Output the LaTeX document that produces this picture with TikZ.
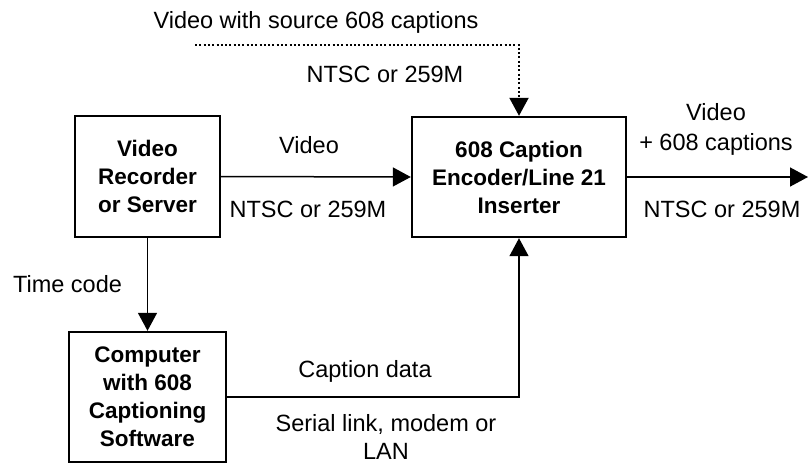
\documentclass[tikz,border=0pt]{standalone}
\usepackage{fontspec}
\setmainfont{Liberation Sans}
\usetikzlibrary{arrows.meta}
\begin{document}
\begin{tikzpicture}[x=1pt,y=-1pt,
  blockbox/.style={draw, line width=2.4pt, inner sep=0pt, align=center,
    font=\fontsize{22.5}{28}\selectfont\bfseries},
  lbl/.style={inner sep=0pt, anchor=base, align=center,
    font=\fontsize{23.5}{28}\selectfont},
  conn/.style={line width=1.5pt, -{Triangle[length=18pt,width=19pt]}},
  dotconn/.style={conn, dash pattern=on 2pt off 2.3pt, line width=2pt}
]
\useasboundingbox (0,0) rectangle (808,464);

% processing blocks
\node[blockbox, minimum width=145pt, minimum height=121pt] (rec) at (147.5,176.5)
  {Video\\Recorder\\or Server};
\node[blockbox, minimum width=214pt, minimum height=120pt] (enc) at (519,177)
  {608 Caption\\Encoder/Line 21\\Inserter};
\node[blockbox, minimum width=157pt, minimum height=130pt] (comp) at (147.5,397)
  {Computer\\with 608\\Captioning\\Software};

% free ends of connectors
\coordinate (src) at (195,45);
\coordinate (out) at (808,177);

% connectors
\draw[dotconn] (src) -| (enc.north);
\draw[conn] (rec.east) -- (enc.west);
\draw[conn] (enc.east) -- (out);
\draw[conn] (rec.south) -- (comp.north);
\draw[conn] (comp.east) -| (enc.south);

% connector labels (multi-line labels sit on the baseline of their last line)
\node[lbl] (srclbl) at (316,28) {Video with source 608 captions};
\node[lbl] (srcfmt) at (385,82) {NTSC or 259M};
\node[lbl] (viddesc) at (309,153) {Video};
\node[lbl] (vidfmt) at (308,217) {NTSC or 259M};
\node[lbl] (outdesc) at (716,150) {Video\\[2pt]+ 608 captions};
\node[lbl] (outfmt) at (722,217) {NTSC or 259M};
\node[lbl] (tc) at (67.5,292) {Time code};
\node[lbl] (capdesc) at (365,377) {Caption data};
\node[lbl] (caplink) at (386,459) {Serial link, modem or\\LAN};
\end{tikzpicture}
\end{document}
